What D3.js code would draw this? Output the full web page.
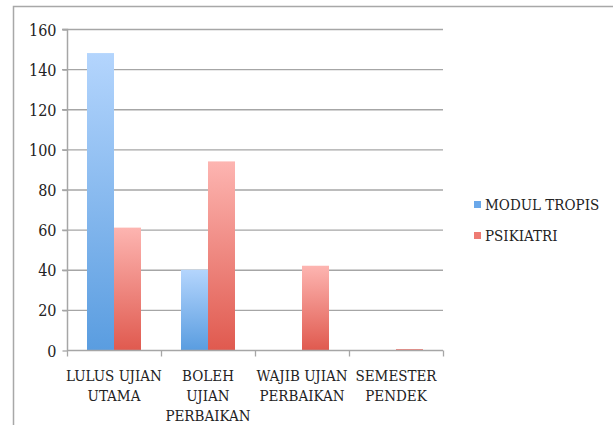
<!DOCTYPE html>
<html>
<head>
<meta charset="utf-8">
<script src="https://cdn.jsdelivr.net/npm/d3@7/dist/d3.min.js"></script>
<style>
  html, body { margin: 0; padding: 0; background: #fff; }
  svg { display: block; }
  svg text { font-family: "DejaVu Serif Condensed", "Liberation Serif", "Noto Serif", "Times New Roman", Times, "DejaVu Serif", serif !important; fill: #222; }
</style>
</head>
<body>
<svg id="chart" width="614" height="425"></svg>
<script>
const categories = [["LULUS UJIAN", "UTAMA"], ["BOLEH", "UJIAN", "PERBAIKAN"], ["WAJIB UJIAN", "PERBAIKAN"], ["SEMESTER", "PENDEK"]];
const seriesNames = ["MODUL TROPIS", "PSIKIATRI"];
const modulTropis = [148, 40, 0, 0];
const psikiatri = [61, 94, 42, 0.5];
const yTicks = [0, 20, 40, 60, 80, 100, 120, 140, 160];

const svg = d3.select("#chart");
const W = 614, H = 425;
const m = { left: 67, right: 443, top: 29, bottom: 350 };

// outer frame
svg.append("path")
  .attr("d", `M13.5,${H} L13.5,6.5 L613,6.5`)
  .attr("fill", "none").attr("stroke", "#a8a8a8").attr("stroke-width", 1.5);

const defs = svg.append("defs");
const grads = [
  { id: "gBlue", top: "#b4d5fd", bottom: "#5a9de0" },
  { id: "gRed", top: "#fdb5b1", bottom: "#e05a4f" }
];
grads.forEach(g => {
  const lg = defs.append("linearGradient").attr("id", g.id)
    .attr("x1", 0).attr("y1", 0).attr("x2", 0).attr("y2", 1);
  lg.append("stop").attr("offset", "0%").attr("stop-color", g.top);
  lg.append("stop").attr("offset", "100%").attr("stop-color", g.bottom);
});
const legendColors = ["#6aa8ea", "#ee7b73"];

const x = d3.scaleBand().domain(d3.range(categories.length)).range([m.left, m.right]).paddingInner(0).paddingOuter(0);
const xInner = d3.scaleBand().domain(d3.range(seriesNames.length)).range([20, x.bandwidth() - 20]).padding(0);
const y = d3.scaleLinear().domain([0, 160]).range([m.bottom, m.top]);

// gridlines
svg.append("g").selectAll("line").data(yTicks.filter(t => t > 0)).join("line")
  .attr("x1", m.left - 5).attr("x2", m.right)
  .attr("y1", d => y(d) + 0.5).attr("y2", d => y(d) + 0.5)
  .attr("stroke", "#a6a6a6").attr("stroke-width", 1.3);

// y axis
const yAxis = d3.axisLeft(y).tickValues(yTicks).tickSize(5).tickPadding(6);
const ga = svg.append("g").attr("transform", `translate(${m.left + 0.5},0.5)`).call(yAxis);
ga.attr("font-family", null);
ga.select(".domain").attr("stroke", "#a6a6a6").attr("stroke-width", 1.5).attr("d", `M-5,${m.top}H0V${m.bottom}`);
ga.selectAll(".tick line").attr("stroke", "#a6a6a6").attr("stroke-width", 1.3);
ga.selectAll(".tick text").attr("font-size", 16).attr("fill", "#222").attr("dy", "0.35em");

// bars
const data = [modulTropis, psikiatri];
const barsG = svg.append("g");
data.forEach((vals, si) => {
  barsG.selectAll(null).data(vals.map((v, i) => ({ v, i }))).join("rect")
    .filter(d => d.v > 0)
    .attr("x", d => x(d.i) + xInner(si))
    .attr("width", xInner.bandwidth())
    .attr("y", d => y(d.v))
    .attr("height", d => y(0) - y(d.v))
    .attr("fill", `url(#${grads[si].id})`);
});

// x axis
const xAxisG = svg.append("g").attr("transform", `translate(0,${m.bottom + 0.5})`);
xAxisG.append("line").attr("x1", m.left).attr("x2", m.right).attr("stroke", "#a6a6a6").attr("stroke-width", 1.5);
xAxisG.selectAll(".xt").data(d3.range(categories.length + 1)).join("line")
  .attr("x1", i => (i < categories.length ? x(i) : m.right) + 0.5)
  .attr("x2", i => (i < categories.length ? x(i) : m.right) + 0.5)
  .attr("y1", 0).attr("y2", 6).attr("stroke", "#a6a6a6").attr("stroke-width", 1.3);

categories.forEach((lines, i) => {
  const t = svg.append("text").attr("text-anchor", "middle").attr("font-size", 15)
    .attr("x", x(i) + x.bandwidth() / 2).attr("y", 381);
  lines.forEach((l, j) => t.append("tspan").attr("x", x(i) + x.bandwidth() / 2).attr("dy", j === 0 ? 0 : 20).text(l));
});

// legend
const lg = svg.append("g");
seriesNames.forEach((n, i) => {
  lg.append("rect").attr("x", 474).attr("y", 201 + i * 31).attr("width", 7).attr("height", 7).attr("fill", legendColors[i]);
  lg.append("text").attr("x", 485).attr("y", 210 + i * 31).attr("font-size", 15).text(n);
});
</script>
</body>
</html>
